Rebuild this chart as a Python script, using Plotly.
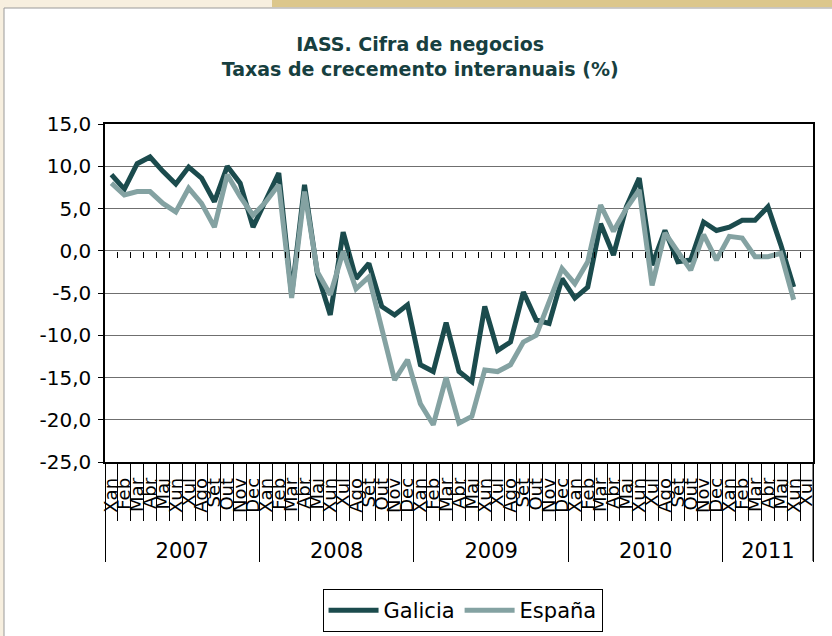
import plotly.graph_objects as go

# ---------------- data ----------------
month_names = ["Xan", "Feb", "Mar", "Abr", "Mai", "Xuñ", "Xul", "Ago", "Set", "Out", "Nov", "Dec"]
years = ["2007", "2008", "2009", "2010", "2011"]
months_per_year = [12, 12, 12, 12, 7]

galicia = [
    9.0, 7.3, 10.3, 11.1, 9.4, 7.9, 9.9, 8.6, 5.8, 10.0, 8.0, 2.8,
    6.0, 9.2, -5.2, 7.8, -2.7, -7.6, 2.2, -3.3, -1.5, -6.6, -7.6, -6.4,
    -13.5, -14.3, -8.5, -14.3, -15.5, -6.6, -11.8, -10.8, -4.9, -8.2, -8.6, -3.3,
    -5.6, -4.3, 3.2, -0.5, 5.2, 8.6, -1.7, 2.4, -1.3, -1.1, 3.4, 2.4,
    2.8, 3.6, 3.6, 5.2, 0.7, -4.3, None,
]
espana = [
    8.0, 6.6, 7.0, 7.0, 5.6, 4.6, 7.4, 5.6, 2.8, 9.0, 6.4, 4.2,
    5.8, 7.8, -5.6, 7.0, -2.5, -5.2, -0.1, -4.5, -3.1, -9.4, -15.3, -12.9,
    -18.1, -20.6, -15.0, -20.4, -19.6, -14.1, -14.3, -13.5, -10.8, -10.0, -6.2, -2.1,
    -3.9, -1.3, 5.4, 2.3, 5.0, 7.2, -4.1, 2.1, -0.1, -2.3, 1.9, -1.1,
    1.7, 1.5, -0.7, -0.7, -0.3, -5.8, None,
]

y_tickvals = [-25, -20, -15, -10, -5, 0, 5, 10, 15]
y_ticktext = ["-25,0", "-20,0", "-15,0", "-10,0", "-5,0", "0,0", "5,0", "10,0", "15,0"]

# ---------------- derived positions ----------------
month_labels = []
for n in months_per_year:
    month_labels += month_names[:n]
n_cat = len(month_labels)
x_centers = [i + 0.5 for i in range(n_cat)]
month_bounds = list(range(n_cat + 1))
year_bounds = [0]
for n in months_per_year:
    year_bounds.append(year_bounds[-1] + n)
year_centers = [(year_bounds[k] + year_bounds[k + 1]) / 2 for k in range(len(years))]

FONT = "DejaVu Sans, Verdana, sans-serif"
DARK = "#1b4b4d"
LIGHT = "#84a2a2"

PLOT_H = 338          # plot-area height in px (636 - 124 - 174)
YEAR_TICK = 99        # length of year separators below the axis (px)
MONTH_TICK = 58       # length of month separators below the axis (px)

fig = go.Figure()
fig.add_trace(go.Scatter(x=x_centers, y=galicia, name="Galicia", mode="lines",
                         line=dict(color=DARK, width=5)))
fig.add_trace(go.Scatter(x=x_centers, y=espana, name="España", mode="lines",
                         line=dict(color=LIGHT, width=5)))
# empty helper traces so that the overlay axes (separators, years, zero ticks) are drawn
for ax in ["x2", "x3", "x4", "x5"]:
    fig.add_trace(go.Scatter(x=[], y=[], xaxis=ax, yaxis="y", showlegend=False,
                             hoverinfo="skip"))

rng = [0, n_cat]
zero_pos = (0 - (-25)) / (15 - (-25))

common_overlay = dict(overlaying="x", side="bottom", matches="x", range=rng,
                      tickmode="array", showgrid=False, zeroline=False, showline=False,
                      automargin=False)

fig.update_layout(
    width=832, height=636,
    margin=dict(l=105, r=19, t=124, b=174, autoexpand=False),
    paper_bgcolor="#f7efdf",
    plot_bgcolor="white",
    font=dict(family=FONT, size=18, color="black"),
    title=dict(text="<b>IASS. Cifra de negocios<br>Taxas de crecemento interanuais (%)</b>",
               x=0.505, xref="container", xanchor="center",
               y=0.92, yref="container", yanchor="top",
               font=dict(family=FONT, size=19, color="#173f40")),
    showlegend=True,
    legend=dict(orientation="h", x=0.505, xanchor="center",
                y=(636 - 589) / 636, yref="container", yanchor="top",
                bordercolor="black", borderwidth=1, bgcolor="white",
                font=dict(size=21, color="black"), itemwidth=50),
    xaxis=dict(range=rng, tickvals=x_centers, ticktext=month_labels, tickangle=-90,
               ticks="", showgrid=False, zeroline=False, automargin=False,
               showline=True, linecolor="black", linewidth=1.5, mirror=True,
               ticklabelstandoff=7,
               tickfont=dict(size=18, color="black")),
    # month separators
    xaxis2=dict(anchor="y", tickvals=month_bounds, ticks="outside", ticklen=MONTH_TICK,
                tickcolor="black", tickwidth=1, showticklabels=False, **common_overlay),
    # year separators
    xaxis5=dict(anchor="y", tickvals=year_bounds, ticks="outside", ticklen=YEAR_TICK,
                tickcolor="black", tickwidth=1, showticklabels=False, **common_overlay),
    # year labels
    xaxis3=dict(anchor="y", tickvals=year_centers, ticktext=years, ticks="",
                ticklabelstandoff=74, tickfont=dict(size=21, color="black"),
                **common_overlay),
    # small ticks on the zero line
    xaxis4=dict(anchor="free", position=zero_pos, tickvals=month_bounds[1:-1],
                ticks="outside", ticklen=6, tickcolor="black", tickwidth=1,
                showticklabels=False, **common_overlay),
    yaxis=dict(range=[-25, 15], tickvals=y_tickvals, ticktext=y_ticktext,
               showgrid=True, gridcolor="#6f6f6f", gridwidth=1.2, zeroline=False,
               ticks="outside", ticklen=5, tickcolor="black", automargin=False,
               showline=True, linecolor="black", linewidth=1.5, mirror=True,
               ticklabelstandoff=3, tickfont=dict(size=20, color="black")),
    shapes=[
        dict(type="rect", xref="paper", yref="paper", layer="below",
             x0=(4 - 105) / 708, x1=(840 - 105) / 708,
             y0=(462 - 640) / 338, y1=(462 - 8) / 338,
             fillcolor="white", line=dict(color="#9a9a9a", width=1)),
        dict(type="rect", xref="paper", yref="paper", layer="below",
             x0=(272 - 105) / 708, x1=(840 - 105) / 708,
             y0=(462 - 7) / 338, y1=(462 + 2) / 338,
             fillcolor="#dcc78c", line=dict(width=0)),
        # closing separator at the right end of the category axis
        dict(type="line", xref="x", yref="paper", layer="above",
             x0=year_bounds[-1], x1=year_bounds[-1],
             y0=-YEAR_TICK / PLOT_H, y1=0,
             line=dict(color="black", width=1)),
    ],
)

fig.write_html("out.html", config={"displayModeBar": False},
               post_script="document.body.style.margin='0';document.body.style.background='#f7efdf';")
